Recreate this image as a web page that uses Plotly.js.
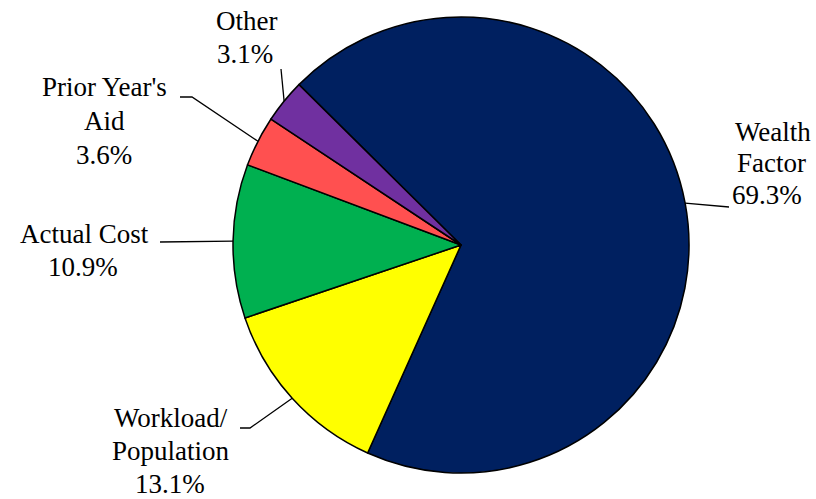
<!DOCTYPE html>
<html>
<head>
<meta charset="utf-8">
<script src="https://cdn.plot.ly/plotly-3.0.1.min.js"></script>
<style>
  body { margin: 0; background: #fff; }
  #chart { width: 816px; height: 499px; }
</style>
</head>
<body>
<div id="chart"></div>
<script>
// Aid formula components (share of total, %)
const categories = ["Wealth Factor", "Workload/ Population", "Actual Cost", "Prior Year's Aid", "Other"];
const shares = [69.3, 13.1, 10.9, 3.6, 3.1];
const labelLines = [
  ["Wealth", "Factor"],
  ["Workload/", "Population"],
  ["Actual Cost"],
  ["Prior Year's", "Aid"],
  ["Other"]
];
const sliceColors = ["#002060", "#FFFF00", "#00B050", "#FF5050", "#7030A0"];

// Layout geometry (pixels)
const W = 816, H = 499;
const CX = 461, CY = 245, R = 228;
const ROTATION = -45.3;
const SERIF = "Liberation Serif";
const FONT_SIZE = 27;

// per label: centre x of each text line, centre y of each line, leader-line points after the anchor
const labelLayout = [
  { xs: [773, 771, 767], ys: [132, 163, 195], path: [[729, 207]] },
  { xs: [171, 171, 170], ys: [418, 451, 484], path: [[250, 428], [240, 428]] },
  { xs: [84, 83],        ys: [234, 267],      path: [[160, 242]] },
  { xs: [105, 105, 104], ys: [87, 121, 155],  path: [[192, 97], [180, 97]] },
  { xs: [246, 245],      ys: [21, 54],        path: [[281, 69]] }
];

const px = x => x / W;
const py = y => 1 - y / H;

const total = shares.reduce((a, b) => a + b, 0);
let cum = 0;
const shapes = [];
const annotations = [];
shares.forEach((v, i) => {
  // leader line starts on the rim at the middle of the slice
  const mid = (ROTATION + (cum + v / 2) / total * 360) * Math.PI / 180;
  cum += v;
  const ax = CX + R * Math.sin(mid);
  const ay = CY - R * Math.cos(mid);
  const L = labelLayout[i];
  const pts = [[ax, ay]].concat(L.path);
  const d = pts.map((p, k) => (k ? "L" : "M") + px(p[0]).toFixed(5) + "," + py(p[1]).toFixed(5)).join(" ");
  shapes.push({
    type: "path", xref: "paper", yref: "paper", path: d,
    line: { color: "#000", width: 1.3 }
  });
  const lines = labelLines[i].concat([v.toFixed(1) + "%"]);
  lines.forEach((t, k) => {
    annotations.push({
      xref: "paper", yref: "paper", x: px(L.xs[k]), y: py(L.ys[k]),
      xanchor: "center", yanchor: "middle",
      showarrow: false,
      font: { family: SERIF, size: FONT_SIZE, color: "#000000" },
      text: t
    });
  });
});

const data = [{
  type: "pie",
  labels: categories,
  values: shares,
  sort: false,
  direction: "clockwise",
  rotation: ROTATION,
  textinfo: "none",
  hoverinfo: "label+percent",
  marker: { colors: sliceColors, line: { color: "#000000", width: 1.5 } },
  domain: { x: [px(CX - R), px(CX + R)], y: [py(CY + R), py(CY - R)] }
}];

const layout = {
  width: W, height: H,
  margin: { l: 0, r: 0, t: 0, b: 0 },
  paper_bgcolor: "#ffffff",
  font: { family: SERIF, size: FONT_SIZE },
  showlegend: false,
  shapes: shapes,
  annotations: annotations
};

const config = { staticPlot: true };

function draw() {
  return Plotly.newPlot("chart", data, layout, config);
}

draw();
// redraw once the serif face is ready so the labels use it
if (document.fonts && document.fonts.load) {
  document.fonts.load(FONT_SIZE + 'px "' + SERIF + '"').then(draw, function () {});
}
</script>
</body>
</html>
